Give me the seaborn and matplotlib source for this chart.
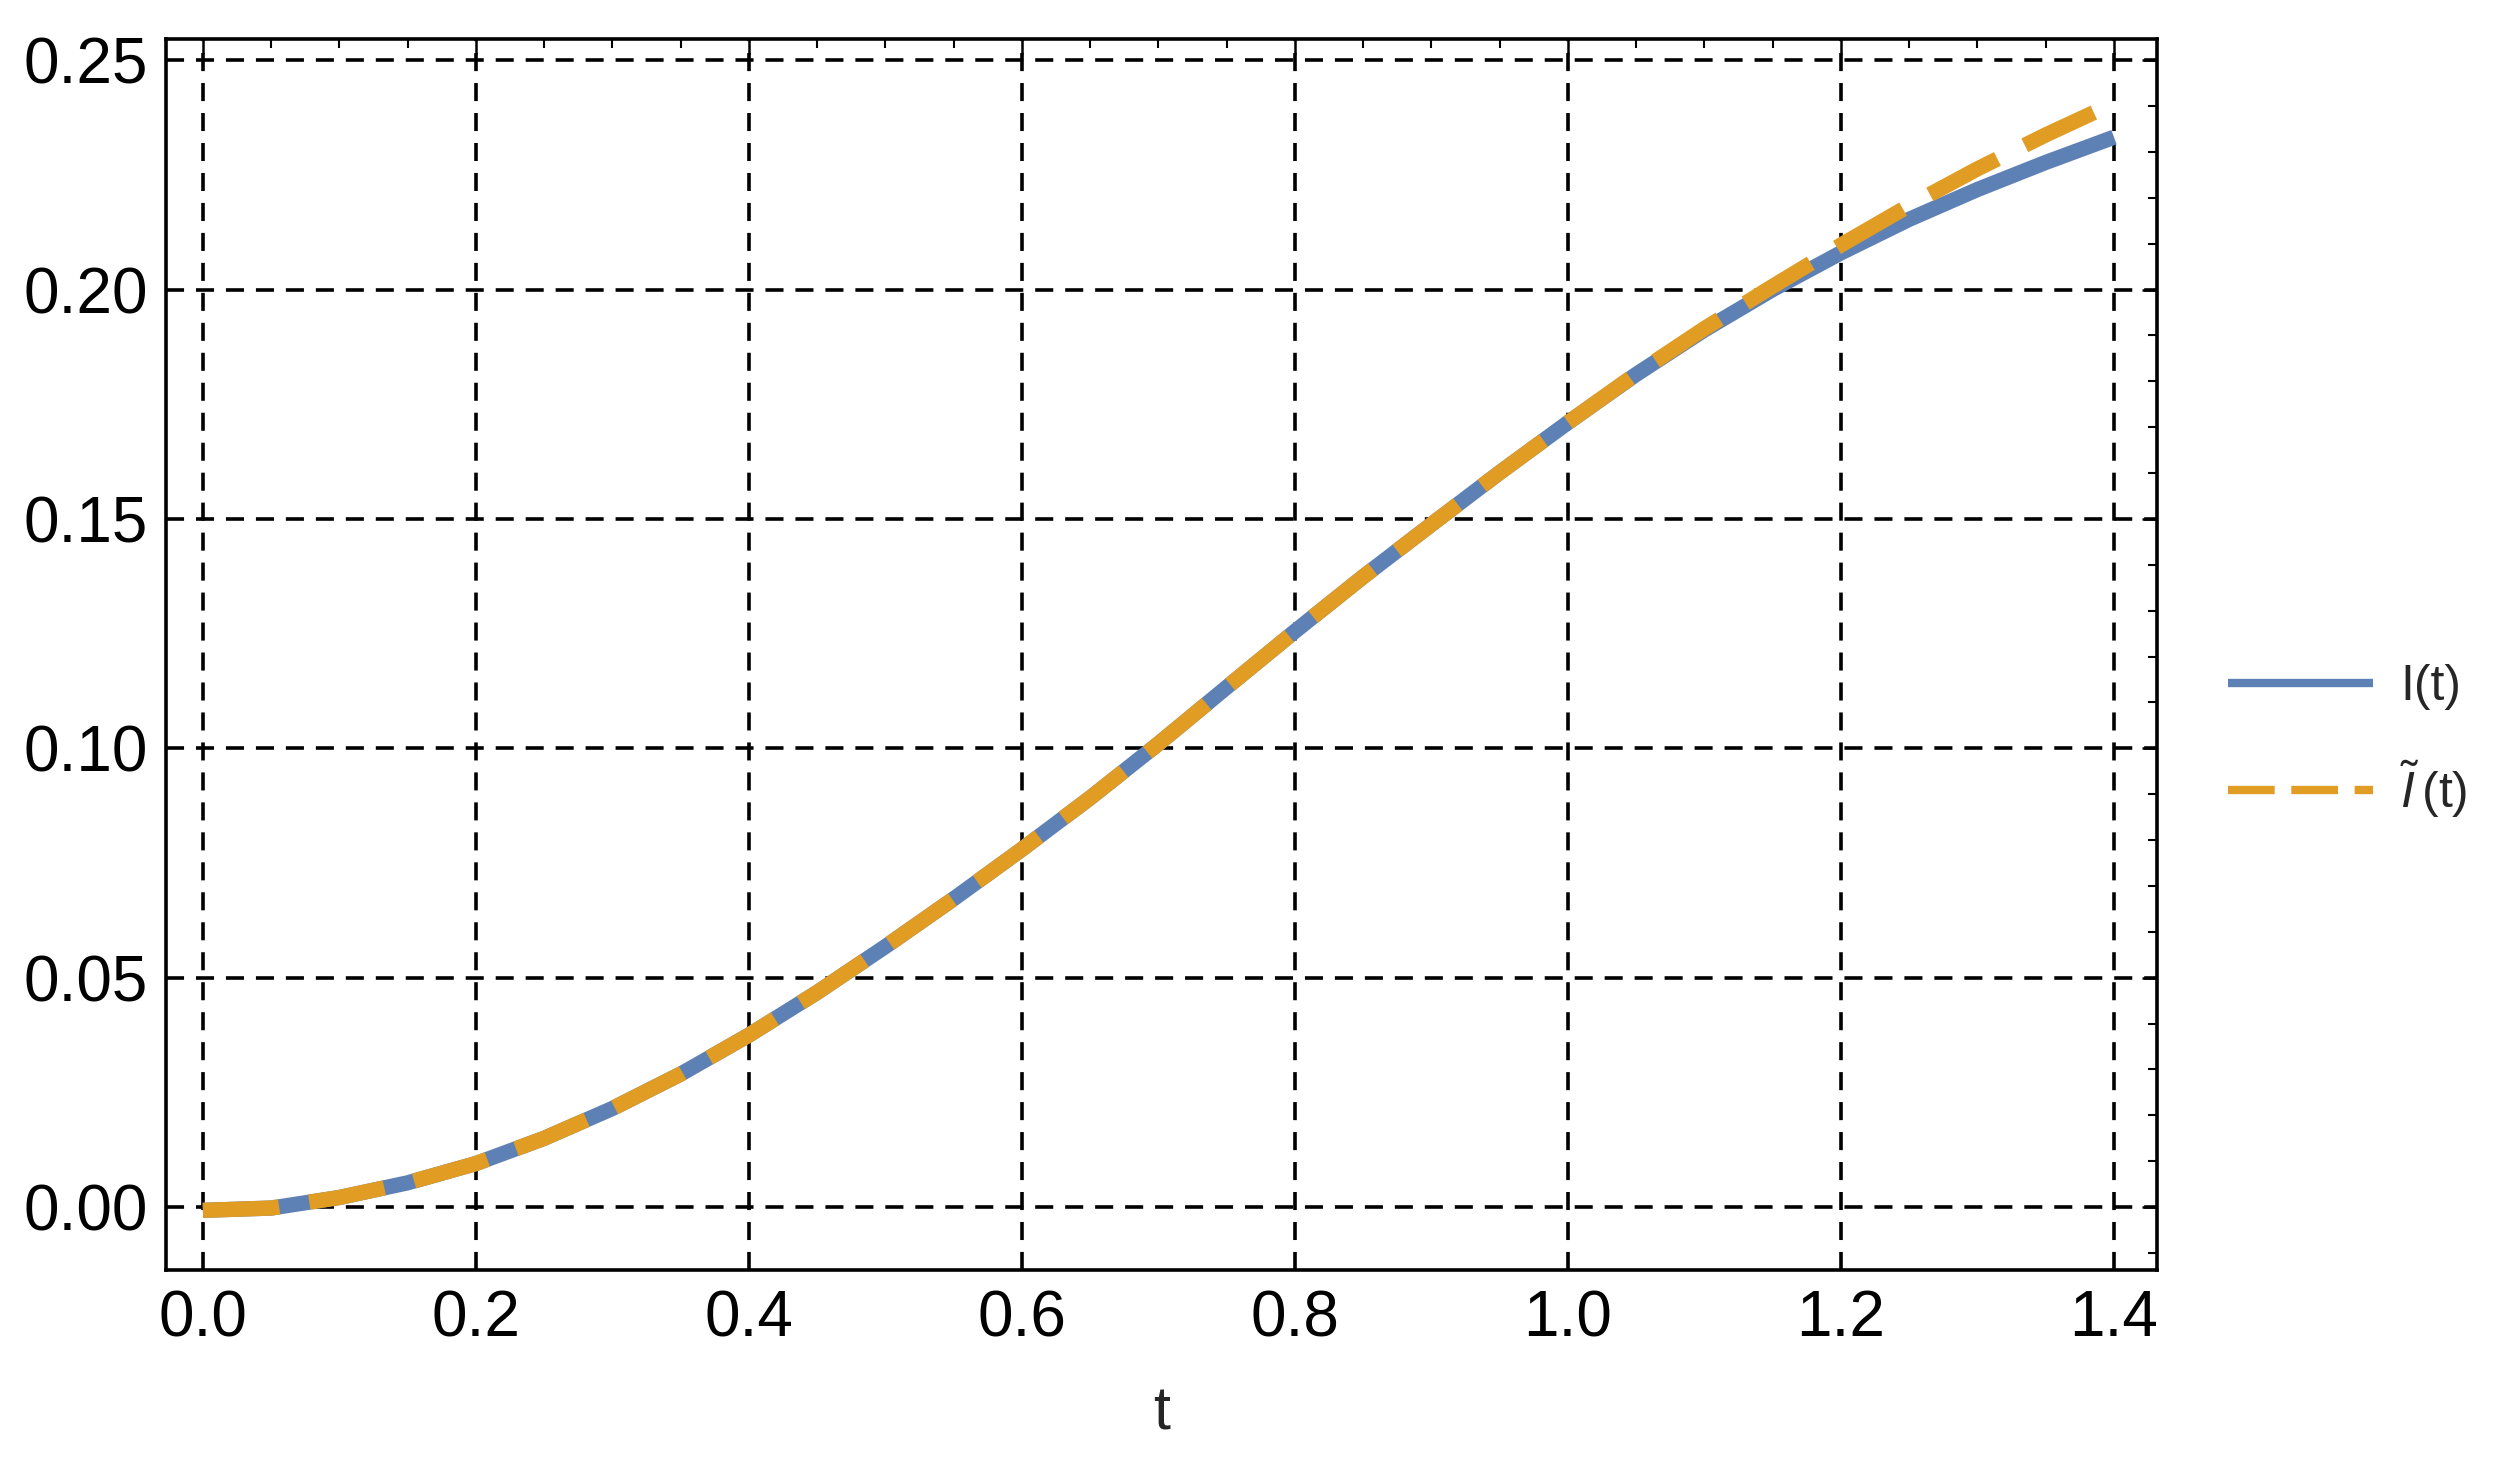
"""I(t) against its approximation, redrawn with seaborn."""

import numpy as np
import pandas as pd
import matplotlib
matplotlib.use("Agg")
import matplotlib.pyplot as plt
import seaborn as sns
from matplotlib.lines import Line2D
from matplotlib.ticker import MultipleLocator, FormatStrFormatter

# values
t_vals = [0.00, 0.05, 0.10, 0.15, 0.20, 0.25, 0.30, 0.35, 0.40, 0.45,
          0.50, 0.55, 0.60, 0.65, 0.70, 0.75, 0.80, 0.85, 0.90, 0.95,
          1.00, 1.05, 1.10, 1.15, 1.20, 1.25, 1.30, 1.35, 1.40]
i_exact = [-0.0007, -0.0002, 0.0021, 0.0053, 0.0095, 0.0150, 0.0215, 0.0290, 0.0375, 0.0468,
           0.0568, 0.0672, 0.0780, 0.0892, 0.1010, 0.1133, 0.1255, 0.1374, 0.1488, 0.1601,
           0.1710, 0.1815, 0.1912, 0.2000, 0.2080, 0.2153, 0.2218, 0.2277, 0.2332]
i_approx = [-0.0007, -0.0002, 0.0021, 0.0053, 0.0095, 0.0150, 0.0215, 0.0290, 0.0375, 0.0468,
            0.0568, 0.0672, 0.0780, 0.0892, 0.1010, 0.1133, 0.1255, 0.1374, 0.1488, 0.1601,
            0.1710, 0.1816, 0.1915, 0.2007, 0.2097, 0.2183, 0.2263, 0.2337, 0.2406]
labels = ["I(t)", r"$\tilde{I}\,$(t)"]
colors = ["#5E81B5", "#E19C24"]

sns.set_theme(style="white")
plt.rcParams["font.family"] = ["Liberation Sans", "DejaVu Sans"]
plt.rcParams["mathtext.fontset"] = "custom"
plt.rcParams["mathtext.rm"] = "Liberation Sans"
plt.rcParams["mathtext.it"] = "Liberation Sans:italic"

df = pd.DataFrame({"t": t_vals, "exact": i_exact, "approx": i_approx})

fig = plt.figure(figsize=(25.06, 14.63), dpi=100)
ax = fig.add_axes([166 / 2506, 1 - 1270 / 1463, (2157 - 166) / 2506, (1270 - 39) / 1463])

dash = (0, (5.0, 2.0))
sns.lineplot(data=df, x="t", y="exact", ax=ax, color=colors[0], linewidth=11,
             solid_capstyle="butt", solid_joinstyle="round", zorder=3)
sns.lineplot(data=df, x="t", y="approx", ax=ax, color=colors[1], linewidth=11,
             linestyle=dash, dash_capstyle="butt", dash_joinstyle="round", zorder=4)

ax.set_xlim(-0.027, 1.4315)
ax.set_ylim(-0.0137, 0.2546)
ax.xaxis.set_major_locator(MultipleLocator(0.2))
ax.xaxis.set_minor_locator(MultipleLocator(0.05))
ax.yaxis.set_major_locator(MultipleLocator(0.05))
ax.yaxis.set_minor_locator(MultipleLocator(0.01))
ax.xaxis.set_major_formatter(FormatStrFormatter("%.1f"))
ax.yaxis.set_major_formatter(FormatStrFormatter("%.2f"))

ax.tick_params(which="both", direction="in", top=True, right=True, colors="black")
ax.tick_params(which="major", length=11, width=1.8, labelsize=46)
ax.tick_params(which="minor", length=6.5, width=1.5)
ax.tick_params(axis="x", which="major", pad=14)
ax.tick_params(axis="y", which="major", pad=13)

ax.grid(True, which="major", color="black", linewidth=2.6, linestyle=(0, (5.0, 3.3)), zorder=1)
ax.set_axisbelow(True)
for side in ax.spines.values():
    side.set_color("black")
    side.set_linewidth(2.6)

ax.set_xlabel("t", fontsize=44, labelpad=26)
ax.set_ylabel("")

handles = [Line2D([], [], color=colors[0], linewidth=6, solid_capstyle="butt"),
           Line2D([], [], color=colors[1], linewidth=6, linestyle=(0, (5.6, 2.0)),
                  dash_capstyle="butt")]
fig.legend(handles, labels, loc="center left", bbox_to_anchor=(2228 / 2506, 1 - 742 / 1463),
           frameon=False, fontsize=36, handlelength=2.9, handletextpad=0.55,
           labelspacing=0.95, borderpad=0, borderaxespad=0)

fig.savefig("out.png", dpi=100)
